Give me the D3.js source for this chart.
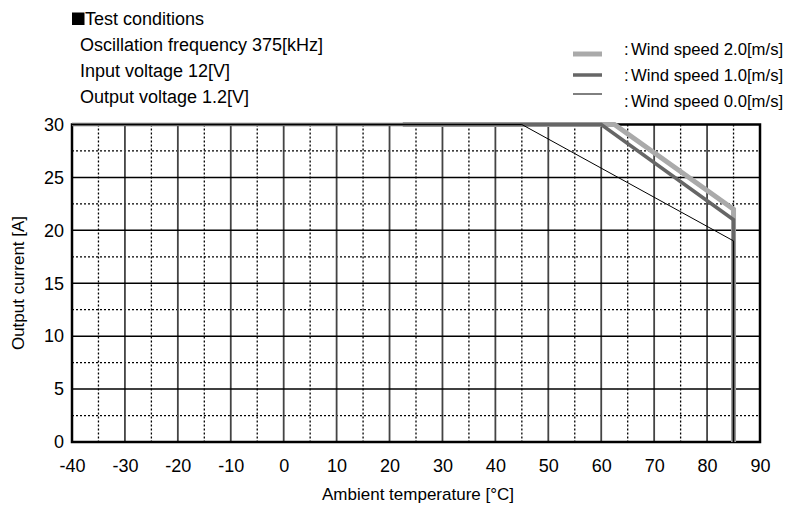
<!DOCTYPE html>
<html>
<head>
<meta charset="utf-8">
<script src="https://cdn.jsdelivr.net/npm/d3@7"></script>
<style>
  body { margin: 0; background: #fff; }
  text { font-family: "Liberation Sans", Arial, sans-serif; fill: #000; }
</style>
</head>
<body>
<script>
// derating curves, temperature [C] vs output current [A]
const wind20Temp = [22.5, 62.5, 85, 85];
const wind20Curr = [30, 30, 22, 0];
const wind10Temp = [-40, 60, 85, 85];
const wind10Curr = [30, 30, 21, 0];
const wind00Temp = [-40, 45, 85, 85];
const wind00Curr = [30, 30, 19, 0];

const xTicks = [-40, -30, -20, -10, 0, 10, 20, 30, 40, 50, 60, 70, 80, 90];
const yTicks = [0, 5, 10, 15, 20, 25, 30];

const conditions = ["Oscillation frequency 375[kHz]", "Input voltage 12[V]", "Output voltage 1.2[V]"];
const legendLabels = ["Wind speed 2.0[m/s]", "Wind speed 1.0[m/s]", "Wind speed 0.0[m/s]"];

const w = 787;
const h = 505;
const pLeft = 72, pRight = 760, pTop = 124.5, pBottom = 442;

const svg = d3.select("body").append("svg").attr("width", w).attr("height", h);

const x = d3.scaleLinear().domain([-40, 90]).range([pLeft, pRight]);
const y = d3.scaleLinear().domain([0, 30]).range([pBottom, pTop]);

// grid
const vMinor = d3.range(-35, 90, 10);
const vMajor = d3.range(-30, 90, 10);
const hMinor = d3.range(2.5, 30, 5);
const hMajor = d3.range(5, 30, 5);

svg.selectAll(".vminor").data(vMinor).enter().append("line")
  .attr("x1", d => x(d)).attr("x2", d => x(d))
  .attr("y1", pTop).attr("y2", pBottom)
  .attr("stroke", "#000").attr("stroke-width", 1.3).attr("stroke-dasharray", "2,2");

svg.selectAll(".hminor").data(hMinor).enter().append("line")
  .attr("x1", pLeft).attr("x2", pRight)
  .attr("y1", d => y(d)).attr("y2", d => y(d))
  .attr("stroke", "#000").attr("stroke-width", 1.3).attr("stroke-dasharray", "2,2");

svg.selectAll(".vmajor").data(vMajor).enter().append("line")
  .attr("x1", d => x(d)).attr("x2", d => x(d))
  .attr("y1", pTop).attr("y2", pBottom)
  .attr("stroke", "#444").attr("stroke-width", 1.8);

svg.selectAll(".hmajor").data(hMajor).enter().append("line")
  .attr("x1", pLeft).attr("x2", pRight)
  .attr("y1", d => y(d)).attr("y2", d => y(d))
  .attr("stroke", "#000").attr("stroke-width", 1.5);

// frame
svg.append("rect")
  .attr("x", pLeft).attr("y", pTop)
  .attr("width", pRight - pLeft).attr("height", pBottom - pTop)
  .attr("fill", "none").attr("stroke", "#000").attr("stroke-width", 2.5);

// axes labels
const fontFam = '"Liberation Sans", Arial, sans-serif';
const xAxis = svg.append("g")
  .attr("transform", `translate(0,${pBottom})`)
  .call(d3.axisBottom(x).tickValues(xTicks).tickSize(0).tickPadding(17).tickFormat(d => String(d)));
xAxis.select(".domain").remove();
xAxis.selectAll("text").attr("font-size", 18).style("font-family", fontFam);

const yAxis = svg.append("g")
  .attr("transform", `translate(${pLeft},0)`)
  .call(d3.axisLeft(y).tickValues(yTicks).tickSize(0).tickPadding(8).tickFormat(d => String(d)));
yAxis.select(".domain").remove();
yAxis.selectAll("text").attr("font-size", 18).style("font-family", fontFam);

svg.append("text")
  .attr("x", 418).attr("y", 500)
  .attr("text-anchor", "middle").attr("font-size", 17)
  .text("Ambient temperature [°C]");

svg.append("text")
  .attr("transform", "translate(24,283) rotate(-90)")
  .attr("text-anchor", "middle").attr("font-size", 17)
  .text("Output current [A]");

// curves
const series = [
  { t: wind20Temp, c: wind20Curr, color: "#aaa", width: 5 },
  { t: wind10Temp, c: wind10Curr, color: "#666", width: 3.5 },
  { t: wind00Temp, c: wind00Curr, color: "#000", width: 1 }
];

const line = d3.line().x(d => x(d[0])).y(d => y(d[1]));

svg.selectAll(".curve").data(series).enter().append("path")
  .attr("d", s => line(d3.zip(s.t, s.c)))
  .attr("fill", "none")
  .attr("stroke", s => s.color)
  .attr("stroke-width", s => s.width);

// test conditions
svg.append("rect").attr("x", 72).attr("y", 12.5).attr("width", 12.5).attr("height", 12.5).attr("fill", "#000");
svg.append("text").attr("x", 85).attr("y", 25).attr("font-size", 18).text("Test conditions");
svg.selectAll(".cond").data(conditions).enter().append("text")
  .attr("x", 80).attr("y", (d, i) => 51 + i * 26)
  .attr("font-size", 18)
  .text(d => d);

// legend
const legY = [54, 75, 94];
const legTextY = [55, 81, 107];
svg.selectAll(".legline").data(series).enter().append("line")
  .attr("x1", 573).attr("x2", 602)
  .attr("y1", (d, i) => legY[i]).attr("y2", (d, i) => legY[i])
  .attr("stroke", d => d.color)
  .attr("stroke-width", d => d.width);

svg.selectAll(".legcolon").data(legendLabels).enter().append("text")
  .attr("x", 624).attr("y", (d, i) => legTextY[i])
  .attr("font-size", 16.7).text(":");

svg.selectAll(".legtext").data(legendLabels).enter().append("text")
  .attr("x", 631).attr("y", (d, i) => legTextY[i])
  .attr("font-size", 16.7).text(d => d);
</script>
</body>
</html>
